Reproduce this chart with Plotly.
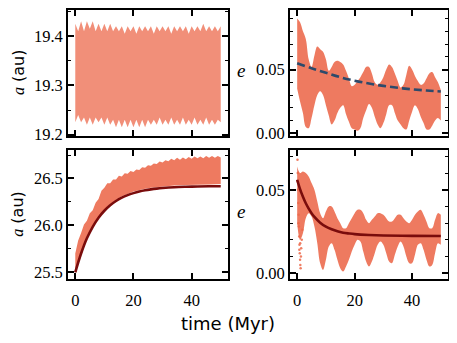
import plotly.graph_objects as go

# ---------------- data ----------------
t_env = list(range(0, 51))

# top-left: a of inner planet (au), cloud envelope
tl_upper = [19.425, 19.41, 19.43, 19.41, 19.43, 19.415, 19.43, 19.41, 19.425, 19.41,
            19.425, 19.41, 19.425, 19.41, 19.42, 19.41, 19.42, 19.405, 19.42, 19.41,
            19.42, 19.405, 19.42, 19.41, 19.42, 19.41, 19.42, 19.405, 19.42, 19.41,
            19.42, 19.41, 19.42, 19.405, 19.42, 19.41, 19.42, 19.41, 19.42, 19.405,
            19.42, 19.41, 19.42, 19.41, 19.425, 19.41, 19.42, 19.41, 19.42, 19.41, 19.42]
tl_lower = [19.225, 19.24, 19.225, 19.235, 19.22, 19.235, 19.22, 19.235, 19.225, 19.235,
            19.22, 19.235, 19.22, 19.23, 19.215, 19.23, 19.215, 19.23, 19.215, 19.23,
            19.215, 19.23, 19.215, 19.23, 19.215, 19.23, 19.22, 19.23, 19.22, 19.235,
            19.22, 19.23, 19.22, 19.235, 19.22, 19.23, 19.22, 19.235, 19.22, 19.23,
            19.22, 19.235, 19.22, 19.23, 19.22, 19.235, 19.22, 19.23, 19.22, 19.23, 19.225]

# top-right: e of inner planet
tr_upper = [0.090, 0.087, 0.080, 0.074, 0.058, 0.052, 0.061, 0.068, 0.066, 0.064,
            0.058, 0.049, 0.052, 0.056, 0.057, 0.056, 0.054, 0.049, 0.043, 0.037,
            0.038, 0.041, 0.044, 0.048, 0.052, 0.052, 0.047, 0.040, 0.038, 0.040,
            0.044, 0.050, 0.054, 0.052, 0.047, 0.041, 0.036, 0.038, 0.046, 0.053,
            0.050, 0.045, 0.041, 0.038, 0.039, 0.043, 0.047, 0.048, 0.044, 0.040, 0.034]
tr_lower = [0.035, 0.025, 0.016, 0.005, 0.004, 0.012, 0.022, 0.030, 0.033, 0.030,
            0.022, 0.014, 0.007, 0.010, 0.016, 0.020, 0.022, 0.015, 0.009, 0.004,
            0.003, 0.002, 0.004, 0.012, 0.018, 0.023, 0.020, 0.013, 0.007, 0.004,
            0.008, 0.015, 0.022, 0.022, 0.016, 0.010, 0.007, 0.004, 0.003, 0.010,
            0.017, 0.022, 0.019, 0.013, 0.008, 0.003, 0.003, 0.006, 0.010, 0.012, 0.010]
tr_fit_t = [0, 5, 10, 15, 20, 25, 30, 35, 40, 45, 50]
tr_fit_e = [0.055, 0.051, 0.0475, 0.044, 0.0413, 0.0390, 0.0372, 0.0357, 0.0345, 0.0336, 0.0328]

# bottom-left: a of outer planet (au)
bl_upper = [25.70, 25.84, 25.92, 26.01, 26.05, 26.13, 26.16, 26.24, 26.28, 26.37,
            26.40, 26.45, 26.45, 26.49, 26.49, 26.53, 26.52, 26.555, 26.55, 26.58,
            26.57, 26.595, 26.59, 26.62, 26.615, 26.64, 26.635, 26.66, 26.655, 26.68,
            26.67, 26.695, 26.685, 26.71, 26.695, 26.72, 26.70, 26.725, 26.705, 26.73,
            26.71, 26.735, 26.715, 26.735, 26.715, 26.74, 26.72, 26.74, 26.72, 26.74, 26.725]
bl_lower_t = [0, 2, 4, 6, 8, 10, 12, 14, 16, 18, 20, 22, 24, 26, 28, 30, 34, 38, 42, 46, 50]
bl_lower = [25.50, 25.71, 25.87, 25.99, 26.09, 26.165, 26.225, 26.27, 26.31, 26.335, 26.36,
            26.375, 26.39, 26.40, 26.41, 26.415, 26.425, 26.43, 26.435, 26.435, 26.44]
bl_fit_t = [0, 2, 4, 6, 8, 10, 12, 14, 16, 18, 20, 22, 24, 26, 28, 30, 34, 38, 42, 46, 50]
bl_fit_a = [25.50, 25.70, 25.862, 25.985, 26.082, 26.156, 26.215, 26.260, 26.296, 26.323,
            26.344, 26.361, 26.374, 26.384, 26.392, 26.398, 26.407, 26.412, 26.415, 26.417, 26.418]

# bottom-right: e of outer planet
br_upper = [0.064, 0.060, 0.061, 0.060, 0.058, 0.054, 0.050, 0.043, 0.036, 0.033,
            0.037, 0.040, 0.040, 0.037, 0.033, 0.030, 0.027, 0.027, 0.030, 0.033,
            0.036, 0.038, 0.038, 0.036, 0.032, 0.030, 0.032, 0.034, 0.036, 0.036,
            0.035, 0.033, 0.031, 0.031, 0.033, 0.035, 0.035, 0.033, 0.031, 0.030,
            0.032, 0.035, 0.037, 0.038, 0.035, 0.031, 0.027, 0.027, 0.032, 0.036, 0.035]
br_lower = [0.030, 0.020, 0.024, 0.033, 0.036, 0.034, 0.028, 0.018, 0.006, 0.002,
            0.008, 0.016, 0.018, 0.014, 0.008, 0.003, 0.001, 0.004, 0.008, 0.013,
            0.017, 0.020, 0.019, 0.013, 0.007, 0.004, 0.007, 0.012, 0.017, 0.019,
            0.017, 0.012, 0.007, 0.006, 0.011, 0.016, 0.019, 0.016, 0.010, 0.006,
            0.006, 0.011, 0.017, 0.018, 0.014, 0.008, 0.004, 0.005, 0.012, 0.018, 0.017]
br_sparse_t = [0.1, 0.2, 0.3, 0.4, 0.5, 0.6, 0.7, 0.8, 0.9, 1.0, 1.1, 1.2, 1.3, 1.4, 1.6, 1.8, 0.15, 0.45, 0.75, 1.05]
br_sparse_e = [0.068, 0.060, 0.050, 0.042, 0.035, 0.028, 0.022, 0.017, 0.012, 0.008, 0.005, 0.003,
               0.010, 0.015, 0.020, 0.026, 0.055, 0.030, 0.014, 0.018]
br_fit_t = [0, 1, 2, 3, 4, 5, 6, 8, 10, 12, 14, 16, 18, 20, 25, 30, 40, 50]
br_fit_e = [0.0560, 0.0504, 0.0458, 0.0419, 0.0387, 0.0360, 0.0338, 0.0303, 0.0279, 0.0263,
            0.0251, 0.0243, 0.0238, 0.0234, 0.0229, 0.0226, 0.0224, 0.0223]

x_ticks = [0, 20, 40]

# ---------------- style ----------------
CLOUD = "rgba(236,104,74,0.88)"
CLOUD_TL = "rgba(236,104,74,0.74)"
DOT = "rgba(236,104,74,0.85)"
BLUE = "#2d4a6b"
DARKRED = "#7a0c0c"
SERIF = "'Liberation Serif', 'DejaVu Serif', serif"
SANS = "'DejaVu Sans', sans-serif"

fig = go.Figure()


def band(x, lo, hi, xa, ya, color, shape="linear"):
    fig.add_trace(go.Scatter(x=x, y=lo, mode="lines",
                             line=dict(width=0, shape=shape), xaxis=xa, yaxis=ya,
                             showlegend=False, hoverinfo="skip"))
    fig.add_trace(go.Scatter(x=x, y=hi, mode="lines", fill="tonexty", fillcolor=color,
                             line=dict(width=0, shape=shape), xaxis=xa, yaxis=ya,
                             showlegend=False, hoverinfo="skip"))


band(t_env, tl_lower, tl_upper, "x", "y", CLOUD_TL)
band(t_env, tr_lower, tr_upper, "x2", "y2", CLOUD, shape="spline")
fig.add_trace(go.Scatter(x=tr_fit_t, y=tr_fit_e, mode="lines", xaxis="x2", yaxis="y2",
                         line=dict(color=BLUE, width=2.6, dash="8px,4px", shape="spline"),
                         showlegend=False))

poly_x = t_env + bl_lower_t[::-1]
poly_y = bl_upper + bl_lower[::-1]
fig.add_trace(go.Scatter(x=poly_x, y=poly_y, mode="lines", fill="toself", fillcolor=CLOUD,
                         line=dict(width=0), xaxis="x3", yaxis="y3", showlegend=False,
                         hoverinfo="skip"))
fig.add_trace(go.Scatter(x=bl_fit_t, y=bl_fit_a, mode="lines", xaxis="x3", yaxis="y3",
                         line=dict(color=DARKRED, width=2.6, shape="spline"), showlegend=False))

band(t_env, br_lower, br_upper, "x4", "y4", CLOUD, shape="spline")
fig.add_trace(go.Scatter(x=br_sparse_t, y=br_sparse_e, mode="markers", xaxis="x4", yaxis="y4",
                         marker=dict(color=DOT, size=2.5), showlegend=False))
fig.add_trace(go.Scatter(x=br_fit_t, y=br_fit_e, mode="lines", xaxis="x4", yaxis="y4",
                         line=dict(color=DARKRED, width=2.6, shape="spline"), showlegend=False))

# page body has an 8px margin: draw a figure 8px smaller and place things relative to it
OFF = 8
W, H = 457 - OFF, 343 - OFF


def px(X):
    return (X - OFF) / W


def py(Y):
    return 1 - (Y - OFF) / H


xl = [px(68), px(228)]
xr = [px(290), px(448)]
yt = [py(138), min(1.0, py(6))]
yb = [py(285), py(152)]


def ax(domain, rng, anchor, **kw):
    d = dict(domain=domain, range=rng, anchor=anchor, showline=True, linecolor="black",
             linewidth=1.8, mirror="allticks", ticks="inside", ticklen=6, tickwidth=1.5,
             tickcolor="black", showgrid=False, zeroline=False,
             tickfont=dict(family=SERIF, size=16.5, color="black"))
    d.update(kw)
    return d


xr_range = [-2.5, 52.5]
MINOR = dict(ticks="inside", ticklen=3, tickwidth=1.2, tickcolor="black")
fig.update_layout(
    width=W, height=H, margin=dict(l=0, r=0, t=0, b=0),
    paper_bgcolor="white", plot_bgcolor="white",
    xaxis=ax(xl, xr_range, "y", tickvals=x_ticks, showticklabels=False),
    xaxis2=ax(xr, xr_range, "y2", tickvals=x_ticks, showticklabels=False),
    xaxis3=ax(xl, xr_range, "y3", tickvals=x_ticks, ticklabelstandoff=6),
    xaxis4=ax(xr, xr_range, "y4", tickvals=x_ticks, ticklabelstandoff=6),
    yaxis=ax(yt, [19.197, 19.453], "x", tickvals=[19.2, 19.3, 19.4], tickformat=".1f",
             minor=dict(MINOR, dtick=0.05, tick0=19.2)),
    yaxis2=ax(yt, [-0.0022, 0.0967], "x2", tickvals=[0.0, 0.05], tickformat=".2f",
              minor=dict(MINOR, dtick=0.01, tick0=0)),
    yaxis3=ax(yb, [25.431, 26.807], "x3", tickvals=[25.5, 26.0, 26.5], tickformat=".1f",
              minor=dict(MINOR, dtick=0.25, tick0=25.5)),
    yaxis4=ax(yb, [-0.0033, 0.074], "x4", tickvals=[0.0, 0.05], tickformat=".2f",
              minor=dict(MINOR, dtick=0.01, tick0=0)),
)

AU = "<span style='font-family:Liberation Serif'><i>a</i></span> (au)"
E = "<i>e</i>"
ann = [
    dict(text=AU, x=px(18), y=py(72), textangle=-90, font=dict(family=SANS, size=16)),
    dict(text=AU, x=px(18), y=py(218), textangle=-90, font=dict(family=SANS, size=16)),
    dict(text=E, x=px(241), y=py(70), font=dict(family=SERIF, size=19)),
    dict(text=E, x=px(241), y=py(216), font=dict(family=SERIF, size=19)),
    dict(text="time (Myr)", x=px(228), y=py(331), font=dict(family=SANS, size=18)),
]
for a in ann:
    a.update(xref="paper", yref="paper", showarrow=False, xanchor="center", yanchor="middle")
    a["font"]["color"] = "black"
fig.update_layout(annotations=ann)

fig.write_html("out.html")
